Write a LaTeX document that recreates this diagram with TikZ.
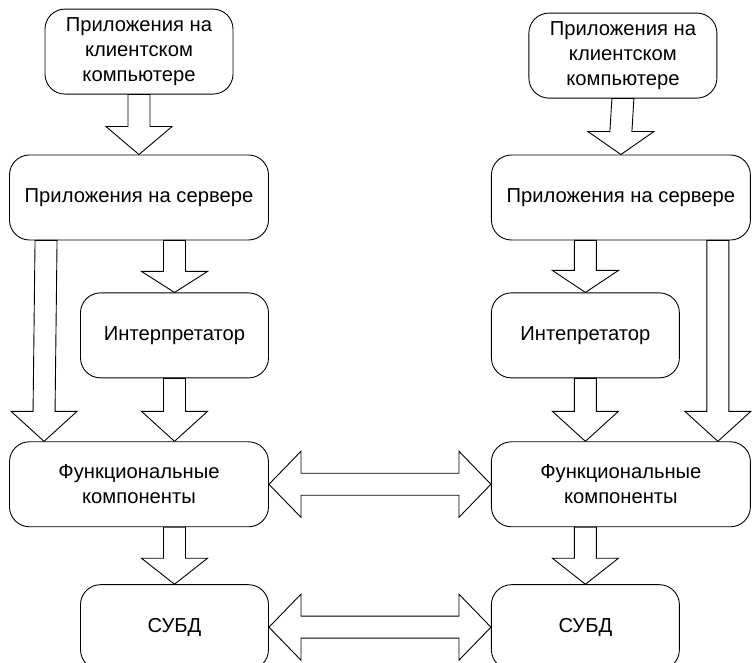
\documentclass[tikz,border=0pt]{standalone}
\usepackage{fontspec}
\setmainfont{Liberation Sans}
\usepackage{tikz}
\usetikzlibrary{positioning}
\usetikzlibrary{calc}

\newcommand{\downblk}[3]{%
  \draw[blk] let \p1=(#1), \p2=(#2) in
    (\x1-11pt,\y1) -- (\x2-11pt,\y2+#3pt) -- (\x2-33pt,\y2+#3pt) -- (\x2,\y2)
    -- (\x2+33pt,\y2+#3pt) -- (\x2+11pt,\y2+#3pt) -- (\x1+11pt,\y1) -- cycle;}
\newcommand{\sideblk}[2]{%
  \draw[blk] let \p1=(#1), \p2=(#2) in
    (\x1,\y1) -- (\x1+32pt,\y1+33pt) -- (\x1+32pt,\y1+11pt) -- (\x2-32pt,\y2+11pt)
    -- (\x2-32pt,\y2+33pt) -- (\x2,\y2) -- (\x2-32pt,\y2-33pt) -- (\x2-32pt,\y2-11pt)
    -- (\x1+32pt,\y1-11pt) -- (\x1+32pt,\y1-33pt) -- cycle;}

\begin{document}
\begin{tikzpicture}[x=1pt,y=1pt,line width=0.9pt]
\tikzstyle{box}=[draw, rounded corners=20pt, minimum height=85pt, align=center,
  font=\fontsize{20.2}{25}\selectfont]
\tikzstyle{wide}=[box, minimum width=259pt]
\tikzstyle{narrow}=[box, minimum width=188pt]
\tikzstyle{blk}=[draw, fill=white]
\useasboundingbox (0,0) rectangle (752,663);
\clip (0,0) rectangle (752,663);
\node[wide]		(srvL)	at (139,465.5)					{Приложения на сервере};
\node[narrow]	(cliL)	[above=60pt of srvL]			{Приложения на\\клиентском\\компьютере};
\node[narrow]	(intL)	[below=52pt of srvL.south east, anchor=north east]	{Интерпретатор};
\node[wide]		(funL)	[below=63pt of intL.south east, anchor=north east]	{Функциональные\\компоненты};
\node[narrow]	(dbL)	[below=57pt of funL.south east, anchor=north east]	{СУБД};
\node[wide]		(funR)	[right=222pt of funL]			{Функциональные\\компоненты};
\node[narrow]	(dbR)	[below=57pt of funR.south west, anchor=north west]	{СУБД};
\node[narrow]	(intR)	[above=63pt of funR.north west, anchor=south west]	{Интепретатор};
\node[wide]		(srvR)	[above=52pt of intR.north west, anchor=south west]	{Приложения на сервере};
\node[narrow]	(cliR)	[above=56pt of srvR, xshift=2pt]	{Приложения на\\клиентском\\компьютере};
\downblk{cliL.south}{srvL.north}{28}
\downblk{cliR.south}{srvR.north}{23}
\downblk{intL.north |- srvL.south}{intL.north}{21}
\downblk{intR.north |- srvR.south}{intR.north}{22}
\downblk{intL.south}{intL.south |- funL.north}{30}
\downblk{intR.south}{intR.south |- funR.north}{30}
\downblk{$(srvL.south west)+(37,0)$}{$(funL.north west)+(35,0)$}{30}
\downblk{$(srvR.south east)+(-33,0)$}{$(funR.north east)+(-33,0)$}{30}
\downblk{dbL.north |- funL.south}{dbL.north}{26}
\downblk{dbR.north |- funR.south}{dbR.north}{26}
\sideblk{funL.east}{funR.west}
\sideblk{dbL.east}{dbR.west}
\end{tikzpicture}
\end{document}
